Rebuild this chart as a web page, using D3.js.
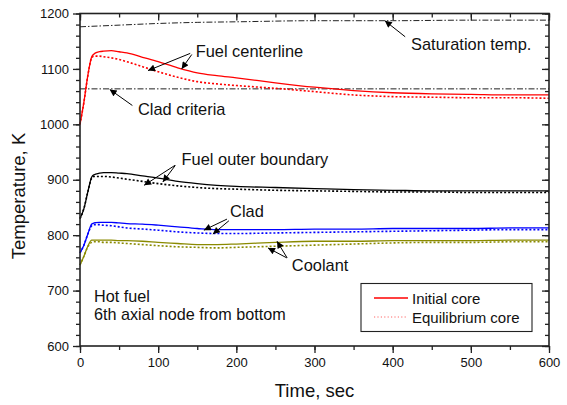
<!DOCTYPE html>
<html>
<head>
<meta charset="utf-8">
<script src="https://cdn.jsdelivr.net/npm/d3@7"></script>
<style>
  html, body { margin: 0; padding: 0; background: #fff; }
  svg { display: block; font-family: Arial, "Liberation Sans", Helvetica, sans-serif; }
</style>
</head>
<body>
<svg id="chart" width="567" height="405"></svg>
<script>
// Time grid (s) shared by the node temperature histories
const time = [0, 5, 10, 15, 18, 20, 25, 30, 40, 50, 60, 80, 100, 125, 150, 175, 200, 250, 300, 350, 400, 450, 500, 550, 600];

// Fuel centerline temperature (K)
const fuelCenterInitial = [1000, 1040, 1088, 1122, 1127, 1129, 1131, 1132, 1133, 1131, 1129, 1121, 1113, 1102, 1093, 1088, 1084, 1075, 1067, 1061, 1057, 1055, 1054, 1053, 1053];
const fuelCenterEquil   = [1000, 1040, 1088, 1120, 1123, 1123, 1123, 1122, 1120, 1117, 1113, 1104, 1095, 1085, 1077, 1073, 1070, 1065, 1059, 1053, 1050, 1049, 1048, 1048, 1047];

// Fuel outer boundary temperature (K)
const fuelOuterInitial = [830, 848, 878, 905, 909, 910, 912, 913, 913, 912, 911, 907, 903, 897, 893, 890, 888, 886, 884, 882, 881, 880, 880, 880, 880];
const fuelOuterEquil   = [830, 848, 878, 903, 906, 906, 906, 906, 905, 903, 901, 897, 893, 889, 886, 884, 883, 881, 880, 879, 878, 878, 877, 877, 877];

// Clad temperature (K)
const cladInitial = [768, 782, 802, 820, 822, 822.5, 823, 823, 823, 822, 821, 820, 818, 815, 812, 810, 810, 810, 811, 811, 812, 812, 812, 813, 813];
const cladEquil   = [768, 782, 802, 817, 819, 819, 819, 818, 817, 815, 813, 811, 809, 806, 804, 803, 803, 804, 805, 806, 807, 808, 809, 810, 810];

// Coolant temperature (K)
const coolantInitial = [746, 762, 780, 791, 791, 791, 791, 791, 791, 790, 790, 789, 787, 785, 783, 783, 784, 787, 789, 789, 790, 790, 790, 791, 791];
const coolantEquil   = [746, 762, 779, 787, 788, 788, 788, 787, 787, 786, 785, 783, 781, 779, 778, 777, 778, 780, 782, 784, 786, 787, 787, 788, 788];

// Reference lines
const satTime = [0, 50, 100, 150, 200, 300, 400, 500, 600];
const satTemp = [1176, 1179, 1182, 1184, 1185, 1187, 1187, 1188, 1188];
const cladCriteria = 1064;

// Axis ticks
const xTicks = [0, 100, 200, 300, 400, 500, 600];
const yTicks = [600, 700, 800, 900, 1000, 1100, 1200];

const svg = d3.select("#chart");
const plotL = 80, plotR = 549, plotT = 13.5, plotB = 346;

const x = d3.scaleLinear().domain([0, 600]).range([plotL, plotR]);
const y = d3.scaleLinear().domain([600, 1200]).range([plotB, plotT]);

const defs = svg.append("defs");
defs.append("marker")
  .attr("id", "arrow")
  .attr("markerUnits", "userSpaceOnUse")
  .attr("viewBox", "0 0 10 10")
  .attr("refX", 10).attr("refY", 5)
  .attr("markerWidth", 9).attr("markerHeight", 7)
  .attr("orient", "auto")
  .append("path").attr("d", "M0,0 L10,5 L0,10 Z").attr("fill", "#000");

const line = d3.line()
  .x(d => x(d[0]))
  .y(d => y(d[1]))
  .curve(d3.curveMonotoneX);

const plot = svg.append("g");

// Reference lines (dash-dot)
plot.append("path")
  .attr("d", line(satTime.map((t, i) => [t, satTemp[i]])))
  .attr("fill", "none").attr("stroke", "#222").attr("stroke-width", 1)
  .attr("stroke-dasharray", "6,2,1.5,2");
plot.append("path")
  .attr("d", line([[0, cladCriteria], [600, cladCriteria]]))
  .attr("fill", "none").attr("stroke", "#222").attr("stroke-width", 1)
  .attr("stroke-dasharray", "6,2,1.5,2");

const series = [
  { v: fuelCenterInitial, c: "#ff0000", dotted: false },
  { v: fuelCenterEquil,   c: "#ff0000", dotted: true },
  { v: fuelOuterInitial,  c: "#000000", dotted: false },
  { v: fuelOuterEquil,    c: "#000000", dotted: true },
  { v: cladInitial,       c: "#0000ff", dotted: false },
  { v: cladEquil,         c: "#0000ff", dotted: true },
  { v: coolantInitial,    c: "#8a8a00", dotted: false },
  { v: coolantEquil,      c: "#8a8a00", dotted: true }
];

series.forEach(s => {
  plot.append("path")
    .attr("d", line(time.map((t, i) => [t, s.v[i]])))
    .attr("fill", "none")
    .attr("stroke", s.c)
    .attr("stroke-width", s.dotted ? 1.6 : 1.3)
    .attr("stroke-dasharray", s.dotted ? "2,2" : null);
});

// Axes: outward ticks on left/bottom, mirrored inward ticks on top/right
const axisColor = "#222";
const minorX = d3.range(0, 601, 50);
const minorY = d3.range(600, 1201, 20);

function styleAxis(g) {
  g.select(".domain").remove();
  g.selectAll("line").attr("stroke", axisColor).attr("stroke-width", 1.3);
  g.selectAll("text").attr("font-size", 13).attr("fill", "#111");
}

const gBottom = svg.append("g").attr("transform", `translate(0,${plotB})`)
  .call(d3.axisBottom(x).tickValues(minorX).tickSize(4).tickFormat(""));
const gBottomMajor = svg.append("g").attr("transform", `translate(0,${plotB})`)
  .call(d3.axisBottom(x).tickValues(xTicks).tickSize(7).tickPadding(5).tickFormat(d3.format("d")));
styleAxis(gBottom); styleAxis(gBottomMajor);

const gTop = svg.append("g").attr("transform", `translate(0,${plotT})`)
  .call(d3.axisBottom(x).tickValues(minorX).tickSize(4).tickFormat(""));
const gTopMajor = svg.append("g").attr("transform", `translate(0,${plotT})`)
  .call(d3.axisBottom(x).tickValues(xTicks).tickSize(7).tickFormat(""));
styleAxis(gTop); styleAxis(gTopMajor);

const gLeft = svg.append("g").attr("transform", `translate(${plotL},0)`)
  .call(d3.axisLeft(y).tickValues(minorY).tickSize(4).tickFormat(""));
const gLeftMajor = svg.append("g").attr("transform", `translate(${plotL},0)`)
  .call(d3.axisLeft(y).tickValues(yTicks).tickSize(7).tickPadding(4).tickFormat(d3.format("d")));
styleAxis(gLeft); styleAxis(gLeftMajor);

const gRight = svg.append("g").attr("transform", `translate(${plotR},0)`)
  .call(d3.axisLeft(y).tickValues(minorY).tickSize(4).tickFormat(""));
const gRightMajor = svg.append("g").attr("transform", `translate(${plotR},0)`)
  .call(d3.axisLeft(y).tickValues(yTicks).tickSize(7).tickFormat(""));
styleAxis(gRight); styleAxis(gRightMajor);

// Frame
svg.append("rect")
  .attr("x", plotL).attr("y", plotT)
  .attr("width", plotR - plotL).attr("height", plotB - plotT)
  .attr("fill", "none").attr("stroke", axisColor).attr("stroke-width", 1.6);

// Axis titles
svg.append("text")
  .attr("x", (plotL + plotR) / 2).attr("y", 397)
  .attr("text-anchor", "middle").attr("font-size", 18.5).attr("fill", "#111")
  .text("Time, sec");
svg.append("text")
  .attr("transform", "translate(25,196) rotate(-90)")
  .attr("text-anchor", "middle").attr("font-size", 18.5).attr("fill", "#111")
  .text("Temperature, K");

// Curve annotations: label position and arrows, in data coordinates
const labels = [
  { text: "Fuel centerline", t: 148, k: 1121, arrows: [[[141, 1128], [87, 1097]], [[143, 1126], [130, 1100]]] },
  { text: "Saturation temp.", t: 423.5, k: 1134, arrows: [[[416, 1158], [390, 1187]]] },
  { text: "Clad criteria", t: 74.2, k: 1017, arrows: [[[67, 1034], [38, 1063]]] },
  { text: "Fuel outer boundary", t: 130, k: 927, arrows: [[[121.5, 926], [82, 890]], [[122, 926], [106, 896]]] },
  { text: "Clad", t: 192, k: 833, arrows: [[[188, 829], [158.5, 809]], [[190.5, 826], [170, 802]]] },
  { text: "Coolant", t: 271, k: 735.5, arrows: [[[265, 759], [252, 789]], [[264.5, 759], [240.5, 777]]] }
];

const ann = svg.append("g").attr("font-size", 16.4).attr("fill", "#111");
labels.forEach(l => {
  ann.append("text").attr("x", x(l.t)).attr("y", y(l.k)).text(l.text);
  l.arrows.forEach(a => {
    ann.append("line")
      .attr("x1", x(a[0][0])).attr("y1", y(a[0][1]))
      .attr("x2", x(a[1][0])).attr("y2", y(a[1][1]))
      .attr("stroke", "#000").attr("stroke-width", 1)
      .attr("marker-end", "url(#arrow)");
  });
});

// Case description
const note = svg.append("g").attr("font-size", 16.2).attr("fill", "#111");
note.append("text").attr("x", 94).attr("y", 302).text("Hot fuel");
note.append("text").attr("x", 94).attr("y", 319.5).text("6th axial node from bottom");

// Legend
const legendItems = [
  { label: "Initial core", dotted: false },
  { label: "Equilibrium core", dotted: true }
];
const lg = svg.append("g");
lg.append("rect").attr("x", 361).attr("y", 283.5).attr("width", 171).attr("height", 48)
  .attr("fill", "#fff").attr("stroke", "#222").attr("stroke-width", 1.1);
legendItems.forEach((d, i) => {
  const yy = 298 + i * 19;
  lg.append("line").attr("x1", 374).attr("x2", 408).attr("y1", yy).attr("y2", yy)
    .attr("stroke", d.dotted ? "#ff6666" : "#ff0000")
    .attr("stroke-width", d.dotted ? 1 : 1.3)
    .attr("stroke-dasharray", d.dotted ? "1.2,2.2" : null);
  lg.append("text").attr("x", 412).attr("y", yy + 5.5).attr("font-size", 15).attr("fill", "#111").text(d.label);
});
</script>
</body>
</html>
